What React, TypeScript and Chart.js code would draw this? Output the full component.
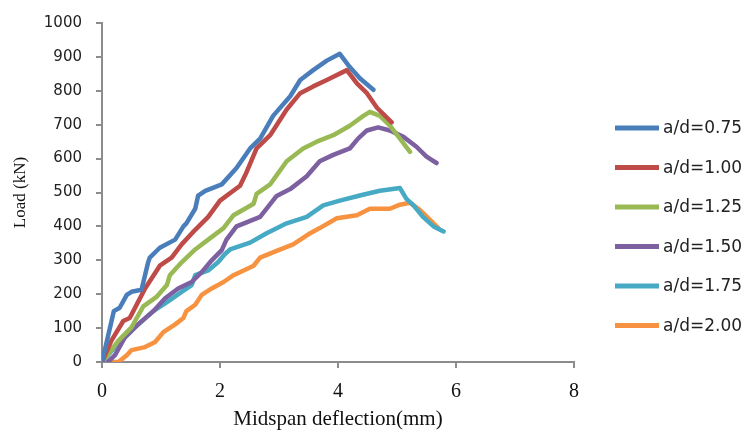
import React, { useEffect, useRef } from "react";
import { Chart, registerables } from "chart.js";

Chart.register(...registerables);

// Midspan deflection (mm) and load (kN) for each a/d ratio
const def075 = [0, 0.08, 0.2, 0.3, 0.42, 0.5, 0.67, 0.78, 0.81, 0.98, 1.24, 1.38, 1.43, 1.58, 1.63, 1.75, 2.03, 2.28, 2.51, 2.68, 2.9, 3.19, 3.36, 3.58, 3.81, 4.03, 4.2, 4.37, 4.6];
const load075 = [0, 60, 150, 160, 198, 207, 213, 293, 308, 337, 361, 400, 409, 452, 491, 505, 524, 572, 630, 659, 726, 784, 832, 861, 889, 909, 870, 837, 803];

const def100 = [0, 0.16, 0.36, 0.47, 0.59, 0.73, 0.98, 1.18, 1.35, 1.58, 1.8, 2.0, 2.34, 2.45, 2.62, 2.85, 3.13, 3.36, 3.58, 3.81, 4.15, 4.32, 4.49, 4.66, 4.91];
const load100 = [0, 63, 121, 130, 170, 217, 284, 308, 347, 390, 428, 476, 520, 560, 630, 669, 745, 793, 813, 832, 861, 822, 793, 750, 707];

const def125 = [0, 0.28, 0.5, 0.56, 0.7, 0.93, 1.1, 1.15, 1.35, 1.58, 1.8, 2.06, 2.23, 2.57, 2.62, 2.85, 3.13, 3.41, 3.64, 3.92, 4.2, 4.43, 4.54, 4.71, 4.88, 5.05, 5.22];
const load125 = [0, 63, 102, 121, 164, 193, 227, 256, 294, 332, 361, 395, 433, 467, 496, 524, 592, 630, 650, 669, 697, 726, 738, 726, 697, 659, 620];

const def150 = [0.1, 0.22, 0.39, 0.61, 0.87, 1.07, 1.29, 1.52, 1.69, 1.86, 2.03, 2.11, 2.28, 2.45, 2.68, 2.96, 3.19, 3.47, 3.69, 3.92, 4.2, 4.34, 4.49, 4.68, 4.88, 5.11, 5.33, 5.5, 5.67];
const load150 = [0, 20, 73, 111, 150, 188, 217, 236, 265, 300, 330, 361, 400, 412, 428, 490, 510, 548, 592, 611, 630, 659, 683, 692, 683, 664, 635, 606, 587];

const def175 = [0, 0.22, 0.56, 0.87, 1.12, 1.35, 1.52, 1.58, 1.8, 1.97, 2.08, 2.17, 2.51, 2.79, 3.13, 3.47, 3.75, 4.03, 4.37, 4.71, 5.05, 5.16, 5.28, 5.44, 5.62, 5.79];
const load175 = [0, 44, 102, 150, 179, 207, 227, 256, 270, 295, 318, 332, 352, 380, 409, 428, 462, 476, 491, 505, 513, 481, 462, 428, 400, 385];

const def200 = [0, 0.28, 0.42, 0.5, 0.73, 0.9, 1.04, 1.24, 1.38, 1.43, 1.58, 1.69, 1.86, 2.06, 2.23, 2.57, 2.68, 2.96, 3.24, 3.53, 3.69, 3.98, 4.32, 4.54, 4.88, 5.05, 5.22, 5.39, 5.56, 5.7];
const load200 = [0, 0, 20, 35, 44, 59, 88, 111, 130, 150, 169, 198, 217, 236, 256, 284, 308, 328, 347, 380, 395, 424, 433, 452, 452, 464, 470, 448, 419, 395];

const seriesLabels = ["a/d=0.75", "a/d=1.00", "a/d=1.25", "a/d=1.50", "a/d=1.75", "a/d=2.00"];
const seriesColors = ["#4A7EBB", "#BE4B48", "#98B954", "#7D60A0", "#46AAC5", "#F69240"];

const xTicks = [0, 2, 4, 6, 8];
const yMax = 1000;
const yStep = 100;

const seriesX = [def075, def100, def125, def150, def175, def200];
const seriesY = [load075, load100, load125, load150, load175, load200];

const legendPlugin = {
  id: "customLegend",
  afterDraw(chart: any) {
    const ctx = chart.ctx;
    ctx.save();
    chart.data.datasets.forEach((ds: any, i: number) => {
      const y = 128 + i * 39.5;
      ctx.strokeStyle = ds.borderColor;
      ctx.lineWidth = 5;
      ctx.lineCap = "butt";
      ctx.beginPath();
      ctx.moveTo(615, y);
      ctx.lineTo(659, y);
      ctx.stroke();
      ctx.fillStyle = "#222";
      ctx.font = "17px 'DejaVu Sans'";
      ctx.textAlign = "left";
      ctx.textBaseline = "middle";
      ctx.fillText(ds.label, 663, y + 1);
    });
    ctx.restore();
  },
};

export default function App() {
  const canvasRef = useRef<HTMLCanvasElement | null>(null);

  useEffect(() => {
    if (!canvasRef.current) return;
    const datasets = seriesLabels.map((label, i) => ({
      label,
      data: seriesX[i].map((x, j) => ({ x, y: seriesY[i][j] })),
      borderColor: seriesColors[i],
      backgroundColor: seriesColors[i],
      borderWidth: 4.5,
      pointRadius: 0,
      tension: 0,
      borderJoinStyle: "round" as const,
      borderCapStyle: "round" as const,
      fill: false,
    }));

    const chart = new Chart(canvasRef.current, {
      type: "line",
      data: { datasets },
      plugins: [legendPlugin],
      options: {
        animation: false,
        responsive: true,
        maintainAspectRatio: false,
        layout: { padding: { left: 0, right: 171, top: 15, bottom: 0 } },
        plugins: {
          legend: { display: false },
          tooltip: { enabled: false },
        },
        scales: {
          x: {
            type: "linear",
            min: 0,
            max: 8,
            afterBuildTicks: (scale: any) => {
              scale.ticks = xTicks.map((v) => ({ value: v }));
            },
            afterFit: (scale: any) => {
              scale.height = 76;
            },
            ticks: {
              color: "#111",
              padding: 12,
              font: { family: "'Liberation Serif'", size: 20 },
            },
            grid: {
              drawOnChartArea: false,
              drawTicks: true,
              tickLength: 6,
              color: "#8c8c8c",
              lineWidth: 2,
            },
            border: { display: true, color: "#8c8c8c", width: 2 },
            title: {
              display: true,
              text: "Midspan deflection(mm)",
              color: "#111",
              font: { family: "'Liberation Serif'", size: 21 },
              padding: { top: 4, bottom: 6 },
            },
          },
          y: {
            type: "linear",
            min: 0,
            max: yMax,
            ticks: {
              stepSize: yStep,
              color: "#222",
              padding: 14,
              font: { family: "'DejaVu Sans'", size: 15 },
              callback: (v: any) => String(v),
            },
            afterFit: (scale: any) => {
              scale.width = 102;
            },
            grid: {
              drawOnChartArea: false,
              drawTicks: true,
              tickLength: 6,
              color: "#8c8c8c",
              lineWidth: 2,
            },
            border: { display: true, color: "#8c8c8c", width: 2 },
            title: {
              display: true,
              text: "Load (kN)",
              color: "#111",
              font: { family: "'Liberation Serif'", size: 17 },
              padding: { top: 10, bottom: 0 },
            },
          },
        },
      },
    });
    return () => chart.destroy();
  }, []);

  return (
    <div style={{ position: "fixed", left: 0, top: 0, width: 745, height: 438, background: "#fff" }}>
      <canvas ref={canvasRef} />
    </div>
  );
}
